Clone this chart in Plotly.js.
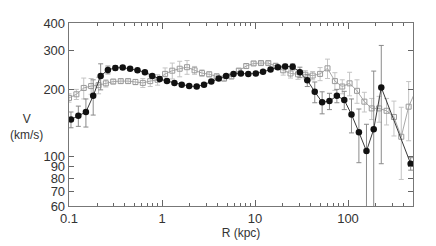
<!DOCTYPE html>
<html>
<head>
<meta charset="utf-8">
<script src="https://cdn.plot.ly/plotly-3.0.1.min.js"></script>
<style>html,body{margin:0;padding:0;background:#fff;}#chart{width:436px;height:246px;}</style>
</head>
<body>
<div id="chart"></div>
<script>
// Filled circles (dark series)
const blackR = [0.105, 0.126, 0.152, 0.182, 0.219, 0.262, 0.315, 0.378, 0.454, 0.545, 0.655, 0.786, 0.944, 1.13, 1.36, 1.63, 1.96, 2.36, 2.83, 3.39, 4.07, 4.89, 5.87, 7.05, 8.47, 10.2, 12.2, 14.7, 17.6, 21.1, 25.4, 30.4, 36.5, 43.9, 52.7, 63.2, 75.9, 91.2, 109, 131, 158, 189, 228, 472];
const blackV = [147, 153, 159, 188, 231, 246, 251, 252, 249, 245, 240, 231, 224, 219, 215, 211, 208, 207, 211, 218, 225, 231, 236, 237, 236, 237, 241, 247, 253, 255, 254, 240, 221, 196, 176, 178, 188, 180, 155, 129, 106, 133, 205, 93];
const blackErrPlus = [12, 16, 23, 34, 31, 10, 6, 4, 4, 4, 4, 4, 4, 3, 3, 3, 3, 3, 3, 3, 3, 3, 3, 3, 3, 3, 3, 4, 5, 6, 8, 13, 14, 21, 20, 15, 13, 17, 27, 35, 34, 110, 112, 6];
const blackErrMinus = [12, 16, 23, 34, 31, 10, 6, 4, 4, 4, 4, 4, 4, 3, 3, 3, 3, 3, 3, 3, 3, 3, 3, 3, 3, 3, 3, 4, 5, 6, 8, 13, 14, 21, 20, 15, 13, 17, 27, 35, 60, 110, 112, 6];

// Open squares (light series)
const grayR = [0.1, 0.120, 0.144, 0.173, 0.208, 0.249, 0.299, 0.360, 0.432, 0.518, 0.622, 0.747, 0.897, 1.08, 1.29, 1.55, 1.86, 2.24, 2.69, 3.22, 3.87, 4.65, 5.58, 6.70, 8.05, 9.66, 11.6, 13.9, 16.7, 20.1, 24.1, 29.0, 34.8, 41.7, 50.1, 60.2, 72.3, 86.8, 104, 125, 150, 180, 216, 260, 312, 374, 449, 540];
const grayV = [184, 191, 204, 208, 210, 214, 218, 219, 219, 217, 215, 219, 222, 236, 244, 249, 253, 245, 238, 235, 230, 225, 230, 244, 256, 263, 264, 264, 256, 245, 237, 235, 234, 232, 236, 250, 219, 207, 214, 198, 177, 165, 165, 161, 151, 123, 168, 200];
const grayErr = [8, 10, 22, 17, 18, 8, 5, 5, 5, 6, 10, 12, 12, 15, 20, 20, 18, 10, 8, 6, 6, 6, 6, 6, 6, 5, 5, 5, 8, 12, 11, 12, 10, 10, 16, 25, 20, 15, 26, 24, 18, 18, 22, 22, 27, 44, 50, 40];

// Axis ticks
const xTickVals = [0.1, 1, 10, 100];
const xTickText = ['0.1', '1', '10', '100'];
const xMinorVals = [0.2,0.3,0.4,0.5,0.6,0.7,0.8,0.9,2,3,4,5,6,7,8,9,20,30,40,50,60,70,80,90,200,300,400];
const yTickVals = [60, 70, 80, 90, 100, 200, 300, 400];
const yTickText = ['60', '70', '80', '90', '100', '200', '300', '400'];

const font = 'Liberation Sans, Arial, Helvetica, sans-serif';

const traces = [
  {
    x: grayR, y: grayV, type: 'scatter', mode: 'lines+markers',
    line: {color: '#a8a8a8', width: 1},
    marker: {symbol: 'square-open', size: 5, color: '#999', line: {color: '#999', width: 1}},
    error_y: {type: 'data', array: grayErr, visible: true, color: '#c4c4c4', thickness: 1, width: 2.5},
    showlegend: false
  },
  {
    x: blackR, y: blackV, type: 'scatter', mode: 'lines+markers',
    line: {color: '#3a3a3a', width: 1},
    marker: {symbol: 'circle', size: 6.5, color: '#111'},
    error_y: {type: 'data', symmetric: false, array: blackErrPlus, arrayminus: blackErrMinus, visible: true, color: '#8a8a8a', thickness: 1, width: 2.5},
    showlegend: false
  }
];

const layout = {
  width: 436, height: 246,
  margin: {l: 69, r: 23, t: 23, b: 40, pad: 0},
  paper_bgcolor: '#fff', plot_bgcolor: '#fff',
  font: {family: font, size: 13, color: '#333'},
  xaxis: {
    type: 'log', range: [-1, Math.log10(500)],
    tickmode: 'array', tickvals: xTickVals, ticktext: xTickText,
    ticks: 'inside', ticklen: 6, tickwidth: 1, tickcolor: '#666',
    minor: {tickmode: 'array', tickvals: xMinorVals, ticks: 'inside', ticklen: 3, tickwidth: 1, tickcolor: '#666', showgrid: false},
    showline: true, linecolor: '#777', linewidth: 1.3, mirror: 'ticks',
    showgrid: false, zeroline: false,
    tickfont: {family: font, size: 13, color: '#333'},
    title: {text: 'R (kpc)', font: {family: font, size: 12, color: '#333'}, standoff: 2}
  },
  yaxis: {
    type: 'log', range: [Math.log10(60), Math.log10(400)],
    tickmode: 'array', tickvals: yTickVals, ticktext: yTickText,
    ticks: 'inside', ticklen: 5, tickwidth: 1, tickcolor: '#666',
    showline: true, linecolor: '#777', linewidth: 1.3, mirror: 'ticks',
    showgrid: false, zeroline: false,
    tickfont: {family: font, size: 13, color: '#333'}
  },
  annotations: [
    {text: 'V<br>(km/s)', xref: 'paper', yref: 'paper', x: -0.125, y: 0.43,
     xanchor: 'center', yanchor: 'middle', showarrow: false,
     font: {family: font, size: 12, color: '#333'}}
  ]
};

Plotly.newPlot('chart', traces, layout, {displayModeBar: false, staticPlot: true});
</script>
</body>
</html>
